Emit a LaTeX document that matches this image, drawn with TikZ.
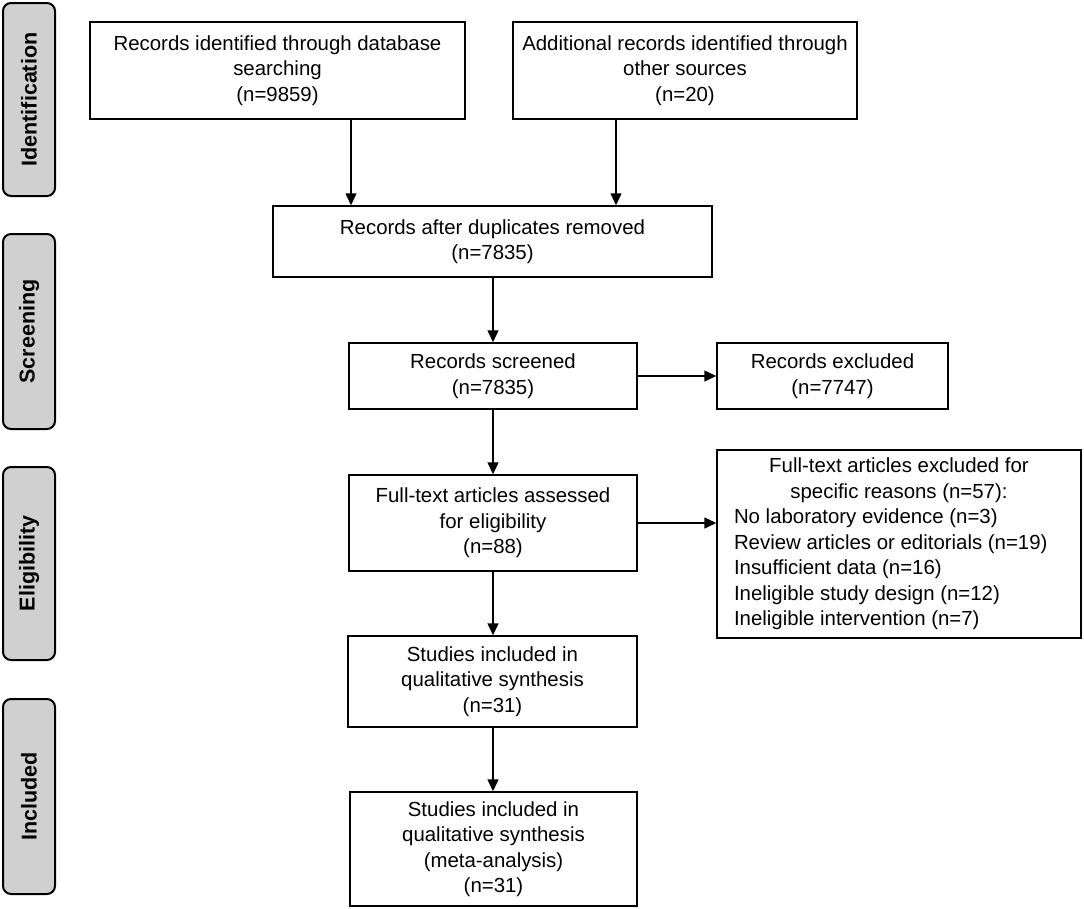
\documentclass[tikz,border=0pt]{standalone}
\usepackage{fontspec}
\setmainfont{Liberation Sans}
\usetikzlibrary{arrows.meta,calc}
\definecolor{sidegray}{HTML}{D0D0D0}
\begin{document}
\begin{tikzpicture}[x=1pt,y=-1pt,
  box/.style={draw, line width=1.5pt, align=center, inner sep=0pt,
    font=\fontsize{20.4}{25.5}\selectfont},
  side/.style={draw, line width=2pt, rounded corners=8pt, fill=sidegray,
    rotate=90, inner sep=0pt, font=\fontsize{21.5}{24}\selectfont\bfseries},
  arr/.style={line width=1.5pt, -{Triangle[length=12pt,width=11pt]}}]
\useasboundingbox (0,0) rectangle (1084,908);

% side labels
\node[side, minimum width=193, minimum height=52] (id) at (29,99.5) {Identification};
\node[side, minimum width=195, minimum height=52] (sc) at (29,331.5) {Screening};
\node[side, minimum width=193, minimum height=52] (el) at (29,563.5) {Eligibility};
\node[side, minimum width=195, minimum height=52] (in) at (29,796.5) {Included};

% boxes
\node[box, minimum width=375, minimum height=97] (b1) at (277.5,70.5)
  {Records identified through database\\searching\\(n=9859)};
\node[box, minimum width=344, minimum height=97] (b2) at (685,70.5)
  {Additional records identified through\\other sources\\(n=20)};
\node[box, minimum width=439, minimum height=71] (b3) at (492.5,241.5)
  {Records after duplicates removed\\(n=7835)};
\node[box, minimum width=288, minimum height=66] (b4) at (493,376)
  {Records screened\\(n=7835)};
\node[box, minimum width=231, minimum height=66] (ex) at (832.5,376)
  {Records excluded\\(n=7747)};
\node[box, minimum width=288, minimum height=96] (b5) at (493,523)
  {Full-text articles assessed\\for eligibility\\(n=88)};
\node[box, minimum width=364, minimum height=188] (r) at (899,544)
  {\parbox{330pt}{\centering Full-text articles excluded for\\specific reasons (n=57):\par
   \raggedright No laboratory evidence (n=3)\\Review articles or editorials (n=19)\\Insufficient data (n=16)\\Ineligible study design (n=12)\\Ineligible intervention (n=7)\par}};
\node[box, minimum width=289, minimum height=91] (s1) at (492.5,681.5)
  {Studies included in\\qualitative synthesis\\(n=31)};
\node[box, minimum width=287, minimum height=114] (s2) at (493.5,849)
  {Studies included in\\qualitative synthesis\\(meta-analysis)\\(n=31)};

% arrow columns
\coordinate (c1) at (351,0);
\coordinate (c2) at (616,0);
\coordinate (cm) at (493,0);

\draw[arr] (b1.south -| c1) -- (b3.north -| c1);
\draw[arr] (b2.south -| c2) -- (b3.north -| c2);
\draw[arr] (b3.south -| cm) -- (b4.north -| cm);
\draw[arr] (b4.east) -- (ex.west);
\draw[arr] (b4.south -| cm) -- (b5.north -| cm);
\draw[arr] (b5.east) -- (r.west |- b5.east);
\draw[arr] (b5.south -| cm) -- (s1.north -| cm);
\draw[arr] (s1.south -| cm) -- (s2.north -| cm);
\end{tikzpicture}
\end{document}
